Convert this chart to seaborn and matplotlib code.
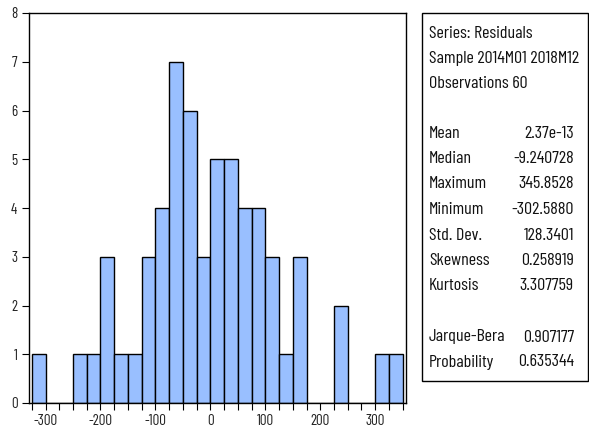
import matplotlib
matplotlib.use("Agg")
import matplotlib.pyplot as plt
import seaborn as sns
from matplotlib.ticker import MultipleLocator
from matplotlib.patches import Rectangle
from matplotlib import font_manager

# Residual histogram: bin edges (width 25) and counts per bin
bin_edges = list(range(-325, 351, 25))
bin_counts = [1, 0, 0, 1, 1, 3, 1, 1, 3, 4, 7, 6, 3, 5, 5, 4, 4, 3, 1, 3,
              0, 0, 2, 0, 0, 1, 1]
x_ticks = [-300, -200, -100, 0, 100, 200, 300]
y_ticks = [0, 1, 2, 3, 4, 5, 6, 7, 8]

# Descriptive statistics panel
header_lines = ["Series: Residuals", "Sample 2014M01 2018M12", "Observations 60"]
stat_names = ["Mean", "Median", "Maximum", "Minimum", "Std. Dev.", "Skewness", "Kurtosis"]
stat_values = ["2.37e-13", "-9.240728", "345.8528", "-302.5880", "128.3401", "0.258919", "3.307759"]
test_names = ["Jarque-Bera", "Probability"]
test_values = ["0.907177", "0.635344"]

sns.set_style("white")
installed = {f.name for f in font_manager.fontManager.ttflist}
narrow = next((n for n in ["Liberation Sans Narrow", "Barlow Condensed", "Roboto Condensed",
                           "Archivo Narrow", "DejaVu Sans"]
               if n in installed), "DejaVu Sans")
plt.rcParams["font.family"] = [narrow, "DejaVu Sans"]
plt.rcParams["axes.unicode_minus"] = False

W, H = 589, 438
fig = plt.figure(figsize=(W / 100, H / 100), dpi=100)
renderer = fig.canvas.get_renderer()


def size_for(text, width_px, ref=12.0):
    t = fig.text(0, 0, text, fontsize=ref)
    w = t.get_window_extent(renderer).width
    t.remove()
    return ref * width_px / w


box_fs = min(size_for("Sample 2014M01 2018M12", 150), 13)
tick_fs = min(size_for("-300", 24), 12.5)

ax = fig.add_axes([28.5 / W, 1 - 403 / H, (406 - 28.5) / W, (403 - 13) / H])

centers = [(a + b) / 2 for a, b in zip(bin_edges[:-1], bin_edges[1:])]
sns.histplot(x=centers, weights=bin_counts, bins=bin_edges, ax=ax,
             color="#99BFFF", edgecolor="black", linewidth=1.0, alpha=1.0)

ax.set_xlim(-331, 356)
ax.set_ylim(0, 8)
ax.set_xticks(x_ticks)
ax.xaxis.set_minor_locator(MultipleLocator(25))
ax.set_yticks(y_ticks)
ax.set_xlabel("")
ax.set_ylabel("")
for s in ax.spines.values():
    s.set_color("black")
    s.set_linewidth(1.0)
ax.tick_params(axis="x", which="both", direction="out", length=5, width=0.8,
               bottom=True, labelsize=tick_fs, colors="black", labelcolor="#222222", pad=3)
ax.tick_params(axis="y", which="both", direction="out", length=5, width=0.8,
               left=True, labelsize=tick_fs, colors="black", labelcolor="#222222", pad=3)

# Statistics box
box = Rectangle((422 / W, 1 - 381 / H), (588 - 422) / W, (381 - 13) / H,
                transform=fig.transFigure, fill=False, edgecolor="black", linewidth=1.0)
fig.add_artist(box)

x_name = 429 / W
x_val = 574 / W
txt = dict(fontsize=box_fs, va="center", color="#111111")
for i, line in enumerate(header_lines):
    fig.text(x_name, 1 - (33 + 25 * i) / H, line, ha="left", **txt)
for i, (n, v) in enumerate(zip(stat_names, stat_values)):
    y = 1 - (133 + 25.5 * i) / H
    fig.text(x_name, y, n, ha="left", **txt)
    fig.text(x_val, y, v, ha="right", **txt)
for i, (n, v) in enumerate(zip(test_names, test_values)):
    y = 1 - (337 + 25 * i) / H
    fig.text(x_name, y, n, ha="left", **txt)
    fig.text(x_val, y, v, ha="right", **txt)

fig.savefig("out.png", dpi=100)
